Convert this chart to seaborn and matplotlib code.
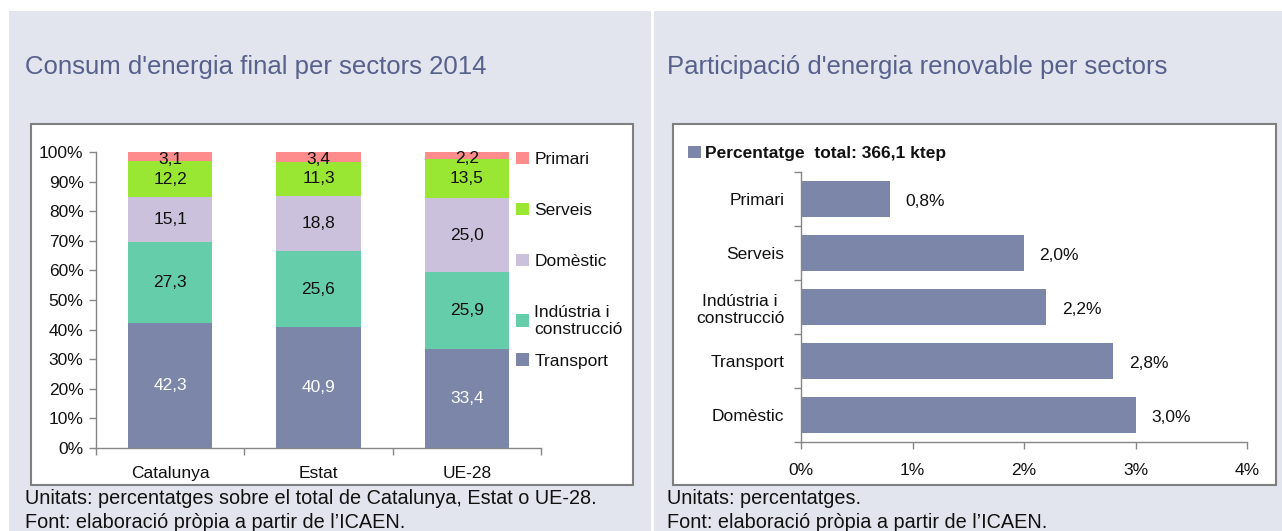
import pandas as pd
import matplotlib.pyplot as plt
import matplotlib.patches as mpatches
from matplotlib.ticker import FixedLocator, NullFormatter
import seaborn as sns

# Dades: consum d'energia final per sectors 2014 (%)
regions = ["Catalunya", "Estat", "UE-28"]
sectors = ["Transport", "Indústria i\nconstrucció", "Domèstic", "Serveis", "Primari"]
transport = [42.3, 40.9, 33.4]
industria = [27.3, 25.6, 25.9]
domestic = [15.1, 18.8, 25.0]
serveis = [12.2, 11.3, 13.5]
primari = [3.1, 3.4, 2.2]
sector_colors = ["#7b86a9", "#66cdaa", "#ccc1dd", "#99e633", "#ff8c8c"]

# Dades: participació d'energia renovable per sectors (%)
ren_sectors = ["Primari", "Serveis", "Indústria i\nconstrucció", "Transport", "Domèstic"]
ren_values = [0.8, 2.0, 2.2, 2.8, 3.0]
ren_label = "Percentatge  total: 366,1 ktep"

W, H = 1282, 531
BG = "#e2e5ee"
TITLE_C = "#57618c"
FONT = ["Liberation Sans Narrow", "Liberation Sans", "DejaVu Sans"]

sns.set_theme(style="white")
plt.rcParams['font.family'] = FONT
plt.rcParams['text.color'] = "#111111"
plt.rcParams['xtick.color'] = "#111111"
plt.rcParams['ytick.color'] = "#111111"

fig = plt.figure(figsize=(W / 100, H / 100), dpi=100)
fig.patch.set_facecolor("white")


def px(x0, y0, x1, y1):
    # rectangle en píxels (origen a dalt a l'esquerra) -> coordenades de figura
    return [x0 / W, 1 - y1 / H, (x1 - x0) / W, (y1 - y0) / H]


def rect(x0, y0, x1, y1, fc, ec="none", lw=0):
    l, b, w, h = px(x0, y0, x1, y1)
    fig.patches.append(mpatches.Rectangle((l, b), w, h, transform=fig.transFigure,
                                          facecolor=fc, edgecolor=ec, linewidth=lw, zorder=-5))


# fons dels panells
rect(9, 11, 651, H, BG)
rect(654, 11, W, H, BG)
# caixes blanques dels gràfics
rect(31, 124, 633, 485, "white", "#7f7f7f", 1.5)
rect(673, 124, 1276, 485, "white", "#7f7f7f", 1.5)

# títols i notes
fig.text(25 / W, 1 - 67 / H, "Consum d'energia final per sectors 2014", color=TITLE_C,
         fontsize=18.5, va="center", ha="left")
fig.text(667 / W, 1 - 67 / H, "Participació d'energia renovable per sectors", color=TITLE_C,
         fontsize=18.5, va="center", ha="left")
fig.text(25 / W, 1 - 498 / H, "Unitats: percentatges sobre el total de Catalunya, Estat o UE-28.",
         fontsize=14.3, va="center")
fig.text(25 / W, 1 - 523 / H, "Font: elaboració pròpia a partir de l’ICAEN.", fontsize=14.3, va="center")
fig.text(667 / W, 1 - 498 / H, "Unitats: percentatges.", fontsize=14.3, va="center")
fig.text(667 / W, 1 - 523 / H, "Font: elaboració pròpia a partir de l’ICAEN.", fontsize=14.3, va="center")

# ---------- gràfic 1: barres apilades ----------
ax1 = fig.add_axes(px(96, 152, 541, 448))
ax1.patch.set_alpha(0)
layers = [transport, industria, domestic, serveis, primari]
df = pd.DataFrame({"regio": regions})
cum = [0, 0, 0]
bottoms = []
for name, vals in zip(sectors, layers):
    bottoms.append(list(cum))
    cum = [c + v for c, v in zip(cum, vals)]
    df[name] = cum

# dibuixar del total acumulat cap avall perquè cada capa tapi l'anterior
for i in reversed(range(len(sectors))):
    sns.barplot(data=df, x="regio", y=sectors[i], color=sector_colors[i], width=0.57,
                saturation=1, ax=ax1, label=sectors[i], linewidth=0)

for i, vals in enumerate(layers):
    for j, v in enumerate(vals):
        ycen = bottoms[i][j] + v / 2
        if i == len(layers) - 1:
            ycen = bottoms[i][j] + v / 2 - 1.0
        ax1.text(j, ycen, f"{v:.1f}".replace(".", ","), ha="center", va="center",
                 fontsize=12.5, color="white" if i == 0 else "#111111")

ax1.set_xlim(-0.5, 2.5)
ax1.set_ylim(0, 100)
ax1.set_yticks(range(0, 101, 10))
ax1.set_yticklabels([f"{v}%" for v in range(0, 101, 10)], fontsize=12.5)
ax1.set_xlabel("")
ax1.set_ylabel("")
ax1.tick_params(axis="x", which="major", length=0, labelsize=12.5, pad=13)
ax1.xaxis.set_minor_locator(FixedLocator([-0.5, 0.5, 1.5, 2.5]))
ax1.xaxis.set_minor_formatter(NullFormatter())
ax1.tick_params(axis="x", which="minor", length=5, width=1, color="#868686", direction="out", bottom=True)
ax1.tick_params(axis="y", length=5, width=1, color="#868686", labelcolor="#111111",
                direction="out", left=True, pad=4)
for s in ["top", "right"]:
    ax1.spines[s].set_visible(False)
for s in ["left", "bottom"]:
    ax1.spines[s].set_color("#868686")
    ax1.spines[s].set_linewidth(1)

handles, labels = ax1.get_legend_handles_labels()
leg_kw = dict(frameon=False, fontsize=12.5, handlelength=0.75, handleheight=0.75,
              handletextpad=0.3, borderaxespad=0)
leg1 = ax1.legend(handles[:4], labels[:4], loc="upper left", bbox_to_anchor=(0.928, 1.025),
                  labelspacing=2.05, **leg_kw)
ax1.add_artist(leg1)
ax1.legend(handles[4:], labels[4:], loc="center left", bbox_to_anchor=(0.928, 1 - 209 / 296), **leg_kw)

# ---------- gràfic 2: barres horitzontals ----------
ax2 = fig.add_axes(px(801, 172, 1247, 442))
ax2.patch.set_alpha(0)
df2 = pd.DataFrame({"sector": ren_sectors, "valor": ren_values})
sns.barplot(data=df2, y="sector", x="valor", orient="h", color="#7b86a9", saturation=1,
            width=0.66, ax=ax2, label=ren_label, linewidth=0)
for j, v in enumerate(ren_values):
    ax2.text(v + 0.14, j + 0.05, f"{v:.1f}%".replace(".", ","), ha="left", va="center", fontsize=12.5)

ax2.set_xlim(0, 4)
ax2.set_ylim(len(ren_sectors) - 0.5, -0.5)
ax2.set_xticks(range(0, 5))
ax2.set_xticklabels([f"{v}%" for v in range(0, 5)], fontsize=12.5)
ax2.set_xlabel("")
ax2.set_ylabel("")
ax2.tick_params(axis="x", length=5, width=1, color="#868686", labelcolor="#111111",
                direction="out", bottom=True, pad=10)
ax2.tick_params(axis="y", which="major", length=0, labelsize=12.5, pad=12)
for lbl in ax2.get_yticklabels():
    lbl.set_multialignment("center")
ax2.yaxis.set_minor_locator(FixedLocator([-0.5, 0.5, 1.5, 2.5, 3.5, 4.5]))
ax2.yaxis.set_minor_formatter(NullFormatter())
ax2.tick_params(axis="y", which="minor", length=5, width=1, color="#868686", direction="out", left=True)
for s in ["top", "right"]:
    ax2.spines[s].set_visible(False)
for s in ["left", "bottom"]:
    ax2.spines[s].set_color("#868686")
    ax2.spines[s].set_linewidth(1)

ax2.legend(loc="lower left", bbox_to_anchor=(-0.27, 1.015), frameon=False,
           prop={"size": 12.5, "weight": "bold"}, handlelength=0.75, handleheight=0.75,
           handletextpad=0.25, borderaxespad=0)

fig.savefig("out.png", dpi=100, facecolor=fig.get_facecolor())
